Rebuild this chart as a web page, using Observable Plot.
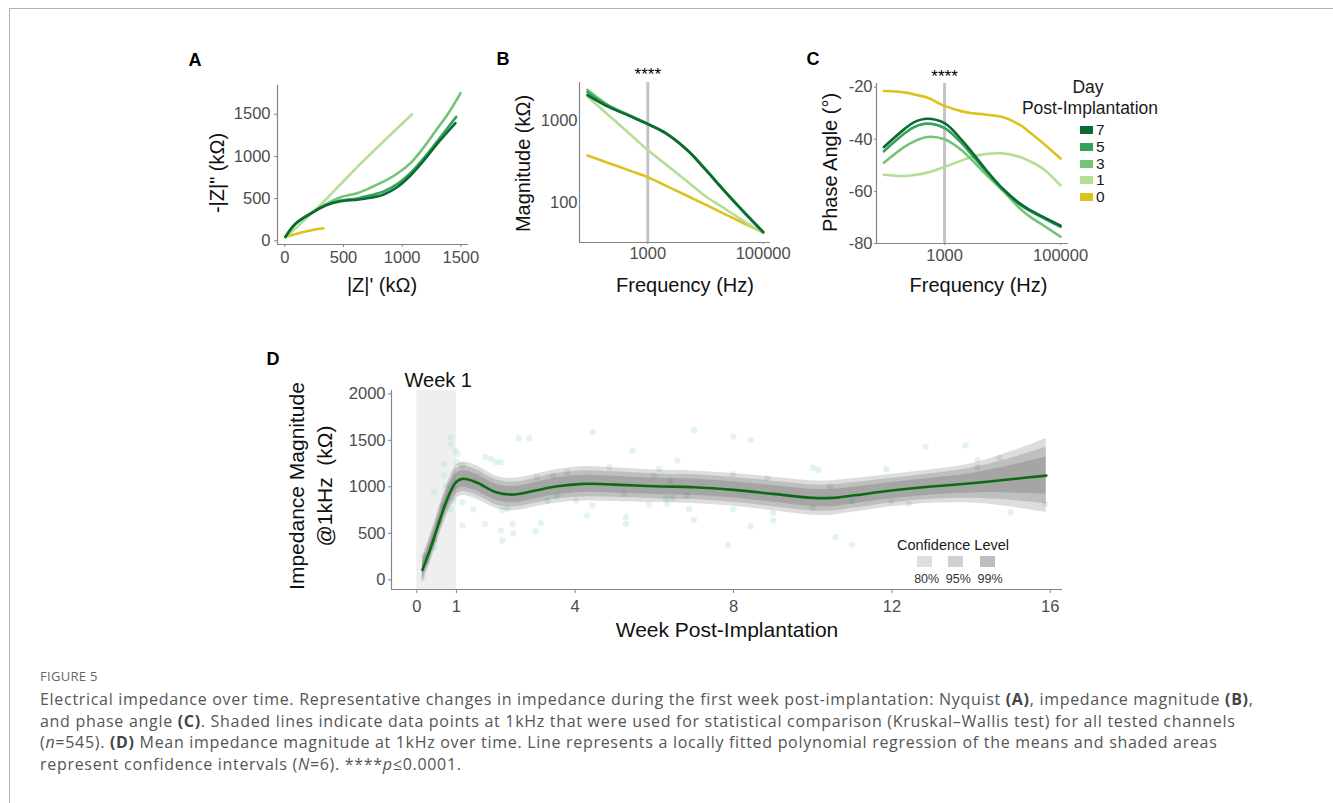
<!DOCTYPE html>
<html><head><meta charset="utf-8">
<script src="https://cdn.jsdelivr.net/npm/d3@7"></script>
<script src="https://cdn.jsdelivr.net/npm/@observablehq/plot@0.6"></script>
<style>
body{margin:0;width:1333px;height:803px;overflow:hidden;background:#fff;position:relative;font-family:'Liberation Sans',Arial,sans-serif}
.abs{position:absolute}
.frame{position:absolute;left:9px;top:8px;width:1400px;height:900px;border:1px solid #b3b3b3}
.letter{position:absolute;font-weight:bold;font-size:18px;color:#000;transform:translate(-50%,-50%)}
.leg{position:absolute;color:#1a1a1a;white-space:nowrap}
.cap{position:absolute;left:40px;top:689px;font-family:'Open Sans',sans-serif;font-size:16px;letter-spacing:0.7px;line-height:21.7px;color:#555;white-space:nowrap}
.cap b{color:#444}
.fig{position:absolute;left:40px;top:667px;font-family:'Open Sans',sans-serif;font-size:13px;color:#666;letter-spacing:0.3px}
</style></head><body>
<div class="frame"></div>
<div id="pA" class="abs" style="left:180px;top:40px"></div>
<div id="pB" class="abs" style="left:490px;top:40px"></div>
<div id="pC" class="abs" style="left:800px;top:40px"></div>
<div id="pD" class="abs" style="left:270px;top:340px"></div>
<div class="letter" style="left:195px;top:60px">A</div>
<div class="letter" style="left:503px;top:59px">B</div>
<div class="letter" style="left:813px;top:59px">C</div>
<div class="letter" style="left:273px;top:359px">D</div>
<div id="legC"></div>
<div id="legD"></div>
<div class="fig">FIGURE 5</div>
<div class="cap">Electrical impedance over time. Representative changes in impedance during the first week post-implantation: Nyquist <b>(A)</b>, impedance magnitude <b>(B)</b>,<br>and phase angle <b>(C)</b>. Shaded lines indicate data points at 1kHz that were used for statistical comparison (Kruskal–Wallis test) for all tested channels<br>(<i>n</i>=545). <b>(D)</b> Mean impedance magnitude at 1kHz over time. Line represents a locally fitted polynomial regression of the means and shaded areas<br>represent confidence intervals (<i>N</i>=6). ****<i>p</i>≤0.0001.</div>
<script>
// ---------- shared categories ----------
const days = [7, 5, 3, 1, 0];
const dayColors = ["#0b6b33", "#34a35a", "#74c476", "#b3df95", "#dcc21c"];

// ---------- Panel A: Nyquist ----------
const reDay7 = [6, 91, 219, 347, 475, 617, 730, 843, 957, 1071, 1185, 1298, 1454];
const imDay7 = [47, 201, 320, 418, 469, 486, 510, 549, 635, 774, 952, 1149, 1394];
const reDay5 = [6, 91, 219, 347, 475, 617, 730, 843, 957, 1071, 1185, 1298, 1460];
const imDay5 = [47, 201, 322, 421, 476, 502, 538, 585, 672, 805, 980, 1178, 1468];
const reDay3 = [6, 91, 219, 347, 475, 617, 730, 843, 957, 1071, 1185, 1298, 1400, 1497];
const imDay3 = [47, 201, 325, 430, 517, 564, 628, 703, 794, 920, 1109, 1327, 1524, 1749];
const reDay1 = [6, 300, 600, 850, 1085];
const imDay1 = [40, 420, 850, 1190, 1500];
const reDay0 = [6, 80, 160, 250, 330];
const imDay0 = [45, 75, 105, 130, 148];
const nyqTicks = [0, 500, 1000, 1500];

// ---------- Panel B: magnitude ----------
const freqB = [90, 200, 500, 1000, 2000, 5000, 10000, 20000, 50000, 100000];
const magDay7 = [2030, 1480, 1120, 900, 705, 425, 252, 146, 73, 44];
const magDay5 = [2200, 1520, 1130, 905, 708, 428, 254, 147, 73, 44];
const magDay3 = [2350, 1560, 1140, 910, 712, 430, 256, 148, 74, 45];
const magDay1 = [1950, 1190, 673, 437, 297, 178, 120, 88, 58, 43];
const magDay0 = [376, 307, 244, 205, 163, 120, 95, 75, 55, 44];
const magTicks = [100, 1000];
const freqTicks = [1000, 100000];

// ---------- Panel C: phase ----------
const freqC = [90, 200, 300, 500, 1000, 2000, 3000, 5000, 10000, 20000, 30000, 50000, 100000];
const phaseDay7 = [-43, -36.2, -33.4, -32.1, -33.8, -40.4, -45.1, -51.3, -58.9, -64.7, -67.2, -69.8, -73.2];
const phaseDay5 = [-44.6, -37.9, -35.3, -34, -35.7, -41.7, -46.2, -51.9, -59.2, -65.1, -67.6, -70.2, -73.6];
const phaseDay3 = [-49, -43, -40.8, -39.1, -40, -44.3, -48.1, -53.2, -59.6, -66.6, -69.8, -73, -77.4];
const phaseDay1 = [-53.6, -54.1, -53.7, -52.8, -50.6, -48.1, -46.7, -45.7, -45.4, -46.8, -48.5, -51.3, -57.7];
const phaseDay0 = [-21.5, -22, -22.8, -24, -27.2, -29.3, -30, -30.5, -31.5, -34.5, -37.5, -41.5, -47.4];
const phaseTicks = [-80, -60, -40, -20];

// ---------- Panel D: impedance over weeks ----------
const fitWeek = [0.14, 0.3, 0.44, 0.69, 0.86, 1.0, 1.15, 1.5, 2, 2.45, 3, 3.5, 4.2, 5, 6, 7, 8, 9, 10, 10.5, 11, 12, 13, 14, 15, 15.9];
const fitImp  = [107, 285, 458, 781, 958, 1055, 1086, 1049, 942, 917, 960, 1003, 1032, 1024, 1006, 996, 967, 924, 881, 881, 906, 960, 1003, 1038, 1081, 1121];
const fitSE   = [55, 58, 60, 64, 67, 70, 70, 70, 68, 68, 68, 70, 72, 70, 68, 68, 68, 70, 72, 72, 70, 68, 70, 82, 115, 155];
const ciLevels = ["99%", "95%", "80%"];
const ciZ = [2.576, 1.96, 1.282];
const ptWeek = [0.16, 0.2, 0.26, 0.44, 0.44, 0.44, 0.56, 0.65, 0.69, 0.73, 0.69, 0.86, 0.86, 0.86, 0.98, 1.01, 1.03, 0.93, 1.15, 1.15, 1.15, 1.43, 1.46, 1.72, 1.73, 1.87, 2.0, 2.12, 2.12, 2.16, 2.16, 2.29, 2.42, 2.44, 2.58, 2.84, 3.0, 3.13, 3.03, 3.3, 3.45, 3.55, 3.8, 4.02, 4.3, 4.44, 4.44, 4.86, 5.24, 5.28, 5.28, 5.45, 5.87, 6.12, 6.29, 6.33, 7.0, 6.58, 5.99, 6.41, 6.83, 6.46, 6.88, 7.0, 7.86, 7.99, 8.43, 7.99, 7.99, 8.43, 8.85, 9.0, 9.0, 10.0, 10.14, 10.0, 10.44, 10.58, 11.0, 11.0, 11.86, 11.99, 12.43, 12.85, 13.86, 14.16, 14.16, 14.72, 15.0, 15.87];
const ptImp  = [20, 261, 207, 351, 423, 942, 620, 799, 1121, 1014, 1247, 1533, 1462, 763, 1390, 1264, 1355, 852, 834, 584, 1229, 756, 1067, 602, 1318, 1301, 1264, 1264, 530, 423, 745, 763, 602, 501, 1522, 1522, 523, 609, 1103, 852, 1121, 906, 1157, 852, 691, 1587, 799, 1211, 924, 673, 602, 1390, 809, 1193, 871, 817, 1612, 1282, 1121, 1067, 906, 878, 763, 645, 379, 1540, 1505, 1139, 763, 576, 1096, 720, 637, 1204, 1183, 774, 1003, 458, 379, 845, 1189, 841, 817, 1433, 1444, 1290, 1211, 1311, 727, 817];
const weekTicks = [0, 1, 4, 8, 12, 16];
const impTicks = [0, 500, 1000, 1500, 2000];

// ---------- helpers ----------
const FONT = "'Liberation Sans', Arial, sans-serif";
const baseStyle = {fontFamily: FONT, fontSize: "16px", color: "#4d4d4d", background: "transparent", overflow: "visible"};
const AX = "#858585";
const plain = d => String(d);
function rows(xs, ys, day, xk, yk) { return xs.map((v, i) => ({[xk]: v, [yk]: ys[i], day})); }
const colorScale = {domain: days, range: dayColors};
function titleX(t, dx, dy, size = 20) {
  return Plot.text([t], {text: d => d, frameAnchor: "bottom", textAnchor: "middle", lineAnchor: "middle", dx, dy, fontSize: size, fill: "#111"});
}
function titleY(t, dx, dy, size = 20) {
  return Plot.text([t], {text: d => d, frameAnchor: "left", textAnchor: "middle", lineAnchor: "middle", rotate: -90, dx, dy, fontSize: size, fill: "#111"});
}

// ---------- A ----------
const dataA = [
  ...rows(reDay0, imDay0, 0, "re", "im"),
  ...rows(reDay1, imDay1, 1, "re", "im"),
  ...rows(reDay3, imDay3, 3, "re", "im"),
  ...rows(reDay5, imDay5, 5, "re", "im"),
  ...rows(reDay7, imDay7, 7, "re", "im")
];
const xA = [-62, 1565], yA = [-44, 1840];
document.getElementById("pA").append(Plot.plot({
  width: 320, height: 280, marginLeft: 97, marginRight: 32, marginTop: 45, marginBottom: 76,
  style: baseStyle,
  x: {domain: xA}, y: {domain: yA}, color: colorScale,
  marks: [
    Plot.line(dataA, {x: "re", y: "im", z: "day", stroke: "day", strokeWidth: 2.6, curve: "catmull-rom"}),
    Plot.ruleX([xA[0]], {stroke: AX, strokeWidth: 1.2}),
    Plot.ruleY([yA[0]], {stroke: AX, strokeWidth: 1.2}),
    Plot.axisX({ticks: nyqTicks, tickFormat: plain, tickSize: 3, tickPadding: 4, fontSize: 16.5, label: null, stroke: AX, fill: "#4d4d4d"}),
    Plot.axisY({ticks: nyqTicks, tickFormat: plain, tickSize: 3, tickPadding: 4, fontSize: 16.5, label: null, stroke: AX, fill: "#4d4d4d"}),
    titleX("|Z|' (kΩ)", 9, 41),
    titleY("-|Z|\" (kΩ)", -60, 8)
  ]
}));

// ---------- B ----------
const dataB = [
  ...rows(freqB, magDay0, 0, "f", "m"),
  ...rows(freqB, magDay1, 1, "f", "m"),
  ...rows(freqB, magDay3, 3, "f", "m"),
  ...rows(freqB, magDay5, 5, "f", "m"),
  ...rows(freqB, magDay7, 7, "f", "m")
];
const xB = [65.5, 134000], yB = [33, 2884];
document.getElementById("pB").append(Plot.plot({
  width: 300, height: 270, marginLeft: 89, marginRight: 20, marginTop: 42, marginBottom: 68,
  style: baseStyle,
  x: {type: "log", domain: xB}, y: {type: "log", domain: yB}, color: colorScale,
  marks: [
    Plot.ruleX([1000], {stroke: "#c4c4c4", strokeWidth: 3}),
    Plot.line(dataB, {x: "f", y: "m", z: "day", stroke: "day", strokeWidth: 2.6, curve: "catmull-rom"}),
    Plot.ruleX([xB[0]], {stroke: AX, strokeWidth: 1.2}),
    Plot.ruleY([yB[0]], {stroke: AX, strokeWidth: 1.2}),
    Plot.axisX({ticks: freqTicks, tickFormat: plain, tickSize: 2, tickPadding: 3, fontSize: 16.5, label: null, stroke: AX, fill: "#4d4d4d"}),
    Plot.axisY({ticks: magTicks, tickFormat: plain, tickSize: 0, tickPadding: 2, fontSize: 16.5, label: null, stroke: AX, fill: "#4d4d4d"}),
    Plot.text(["****"], {text: d => d, x: 1000, frameAnchor: "top", lineAnchor: "middle", dy: -8, fontSize: 17, fill: "#000"}),
    titleX("Frequency (Hz)", 10, 43),
    titleY("Magnitude (kΩ)", -56, 1)
  ]
}));

// ---------- C ----------
const dataC = [
  ...rows(freqC, phaseDay0, 0, "f", "p"),
  ...rows(freqC, phaseDay1, 1, "f", "p"),
  ...rows(freqC, phaseDay3, 3, "f", "p"),
  ...rows(freqC, phaseDay5, 5, "f", "p"),
  ...rows(freqC, phaseDay7, 7, "f", "p")
];
const xC = [67, 137000], yC = [-80, -18.6];
document.getElementById("pC").append(Plot.plot({
  width: 280, height: 270, marginLeft: 76, marginRight: 12, marginTop: 43, marginBottom: 67,
  style: baseStyle,
  x: {type: "log", domain: xC}, y: {domain: yC}, color: colorScale,
  marks: [
    Plot.ruleX([1000], {stroke: "#c4c4c4", strokeWidth: 3}),
    Plot.line(dataC, {x: "f", y: "p", z: "day", stroke: "day", strokeWidth: 2.6, curve: "catmull-rom"}),
    Plot.ruleX([xC[0]], {stroke: AX, strokeWidth: 1.2}),
    Plot.ruleY([yC[0]], {stroke: AX, strokeWidth: 1.2}),
    Plot.axisX({ticks: freqTicks, tickFormat: plain, tickSize: 2, tickPadding: 4, fontSize: 16.5, label: null, stroke: AX, fill: "#4d4d4d"}),
    Plot.axisY({ticks: phaseTicks, tickFormat: plain, tickSize: 2, tickPadding: 2, fontSize: 16.5, label: null, stroke: AX, fill: "#4d4d4d"}),
    Plot.text(["****"], {text: d => d, x: 1000, frameAnchor: "top", lineAnchor: "middle", dy: -7, fontSize: 17, fill: "#000"}),
    titleX("Frequency (Hz)", 6, 42),
    titleY("Phase Angle (°)", -46, -1)
  ]
}));

// legend C
(function () {
  const L = document.getElementById("legC");
  let h = `<div class="leg" style="left:1088px;top:87px;font-size:17.5px;transform:translate(-50%,-50%)">Day</div>`;
  h += `<div class="leg" style="left:1090px;top:108px;font-size:17.5px;transform:translate(-50%,-50%)">Post-Implantation</div>`;
  days.forEach((d, i) => {
    const cy = 130 + i * 16.75;
    h += `<div class="abs" style="left:1080px;top:${cy - 4}px;width:13px;height:8px;background:${dayColors[i]}"></div>`;
    h += `<div class="leg" style="left:1096px;top:${cy}px;font-size:15.5px;transform:translateY(-50%)">${d}</div>`;
  });
  L.innerHTML = h;
})();

// ---------- D ----------
const fitRows = fitWeek.map((w, i) => ({w, v: fitImp[i], se: fitSE[i]}));
const bandRows = ciLevels.flatMap((lvl, k) => fitRows.map(r => ({w: r.w, lvl, lo: r.v - ciZ[k] * r.se, hi: r.v + ciZ[k] * r.se})));
const ptRows = ptWeek.map((w, i) => ({w, v: ptImp[i]}));
const xD = [-0.64, 16.31], yD = [-104, 2036];
document.getElementById("pD").append(Plot.plot({
  width: 800, height: 300, marginLeft: 121, marginRight: 8, marginTop: 50, marginBottom: 51,
  style: baseStyle,
  x: {domain: xD}, y: {domain: yD},
  marks: [
    Plot.rect([{a: 0, b: 1}], {x1: "a", x2: "b", y1: yD[0], y2: yD[1], fill: "#efefef"}),
    Plot.dot(ptRows, {x: "w", y: "v", r: 3.2, fill: "#b4e6d2", fillOpacity: 0.4, stroke: "none"}),
    ...ciLevels.map(lvl => Plot.areaY(bandRows.filter(r => r.lvl === lvl), {x: "w", y1: "lo", y2: "hi", fill: "#000", fillOpacity: 0.135, curve: "catmull-rom"})),
    Plot.line(fitRows, {x: "w", y: "v", stroke: "#0c6a12", strokeWidth: 2.6, curve: "catmull-rom"}),
    Plot.ruleX([xD[0]], {stroke: AX, strokeWidth: 1.2}),
    Plot.ruleY([yD[0]], {stroke: AX, strokeWidth: 1.2}),
    Plot.axisX({ticks: weekTicks, tickFormat: plain, tickSize: 4, tickPadding: 7, fontSize: 16.5, label: null, stroke: AX, fill: "#4d4d4d"}),
    Plot.axisY({ticks: impTicks, tickFormat: plain, tickSize: 3, tickPadding: 3, fontSize: 16.5, label: null, stroke: AX, fill: "#4d4d4d"}),
    Plot.text(["Week 1"], {text: d => d, x: 0.54, frameAnchor: "top", lineAnchor: "middle", dy: -10, fontSize: 20, fill: "#111"}),
    titleX("Week Post-Implantation", 0, 41, 21),
    titleY("Impedance Magnitude", -94, -4, 21),
    titleY("@1kHz  (kΩ)", -66, -4, 21)
  ]
}));

// legend D
(function () {
  const L = document.getElementById("legD");
  const sw = ["#dedede", "#d0d0d0", "#bdbdbd"];
  const labs = ["80%", "95%", "99%"];
  let h = `<div class="leg" style="left:953px;top:545px;font-size:14.5px;transform:translate(-50%,-50%)">Confidence Level</div>`;
  labs.forEach((t, i) => {
    const cx = 926.7 + i * 31.65;
    h += `<div class="abs" style="left:${cx - 10}px;top:556px;width:15px;height:11px;background:${sw[i]}"></div>`;
    h += `<div class="leg" style="left:${cx}px;top:579px;font-size:12.5px;color:#333;transform:translate(-50%,-50%)">${t}</div>`;
  });
  L.innerHTML = h;
})();
</script>
</body></html>
